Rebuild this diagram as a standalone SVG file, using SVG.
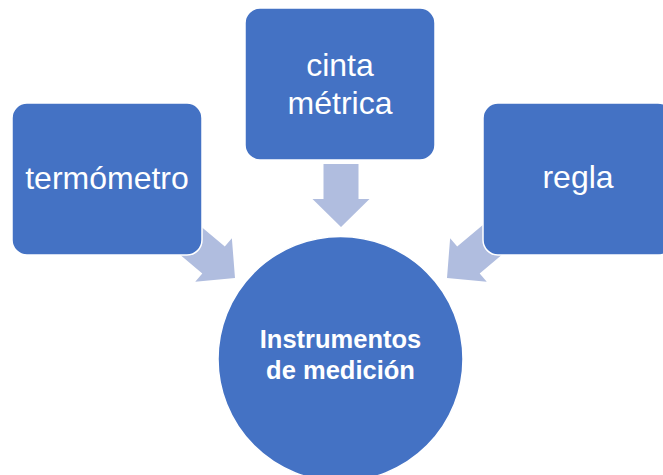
<svg xmlns="http://www.w3.org/2000/svg" width="663" height="475" viewBox="0 0 663 475">
<defs>
<style>
.node{fill:#4472C4;stroke:#FFFFFF;stroke-width:1.5}
.arrow{fill:#B0BDDF}
.lbl{font-family:"Liberation Sans",Arial,sans-serif;font-size:32px;fill:#FFFFFF;text-anchor:middle}
.hub{font-family:"Liberation Sans",Arial,sans-serif;font-size:25.5px;font-weight:bold;fill:#FFFFFF;text-anchor:middle}
</style>
<polygon id="arr" points="-17.5,-63 17.5,-63 17.5,-28 28.5,-28 0,0 -28.5,-28 -17.5,-28 -17.5,-63"/>
</defs>
<rect width="663" height="475" fill="#FFFFFF"/>
<g id="connectors">
<use href="#arr" class="arrow" transform="translate(341,227)"/>
<use href="#arr" class="arrow" transform="translate(235,278) rotate(-50)"/>
<use href="#arr" class="arrow" transform="translate(447,278) rotate(50)"/>
</g>
<g id="termometro">
<rect class="node" x="12" y="103" width="190" height="152" rx="15"/>
<text class="lbl" x="107" y="189">termómetro</text>
</g>
<g id="cinta-metrica">
<rect class="node" x="245" y="8" width="190" height="152" rx="15"/>
<text class="lbl" x="340" y="76">cinta</text>
<text class="lbl" x="340" y="114">métrica</text>
</g>
<g id="regla">
<rect class="node" x="483" y="103" width="190" height="152" rx="15"/>
<text class="lbl" x="578" y="188">regla</text>
</g>
<g id="instrumentos">
<circle class="node" cx="340.5" cy="359" r="122.5"/>
<text class="hub" x="340.5" y="348">Instrumentos</text>
<text class="hub" x="340.5" y="379">de medición</text>
</g>
</svg>
